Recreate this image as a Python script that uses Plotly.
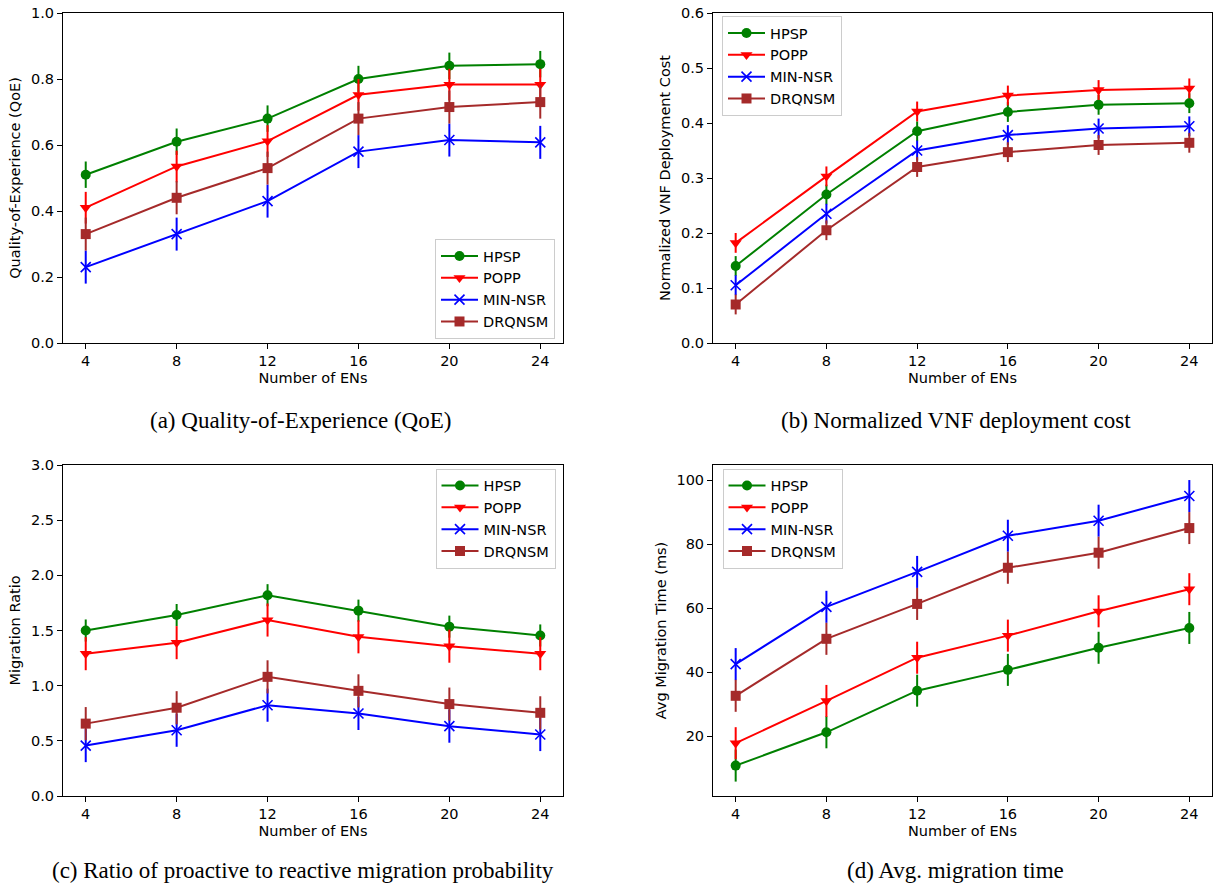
import plotly.graph_objects as go

# ---------------- data ----------------
ens = [4, 8, 12, 16, 20, 24]
series_names = ["HPSP", "POPP", "MIN-NSR", "DRQNSM"]

qoe_hpsp = [0.51, 0.61, 0.68, 0.80, 0.84, 0.845]
qoe_popp = [0.41, 0.535, 0.612, 0.752, 0.783, 0.783]
qoe_minnsr = [0.23, 0.33, 0.43, 0.58, 0.615, 0.608]
qoe_drqnsm = [0.33, 0.44, 0.53, 0.68, 0.715, 0.73]
qoe_err = [0.04, 0.048, 0.05, 0.05]

cost_hpsp = [0.14, 0.27, 0.385, 0.42, 0.433, 0.436]
cost_popp = [0.182, 0.303, 0.421, 0.45, 0.46, 0.463]
cost_minnsr = [0.105, 0.235, 0.35, 0.378, 0.39, 0.394]
cost_drqnsm = [0.07, 0.205, 0.32, 0.347, 0.36, 0.364]
cost_err = [0.018, 0.018, 0.018, 0.018]

ratio_hpsp = [1.50, 1.64, 1.82, 1.68, 1.535, 1.455]
ratio_popp = [1.29, 1.39, 1.595, 1.443, 1.358, 1.29]
ratio_minnsr = [0.457, 0.596, 0.823, 0.748, 0.633, 0.557]
ratio_drqnsm = [0.656, 0.80, 1.08, 0.953, 0.833, 0.754]
ratio_err = [0.1, 0.15, 0.15, 0.15]

time_hpsp = [10.8, 21.2, 34.2, 40.7, 47.6, 53.8]
time_popp = [17.8, 31.0, 44.5, 51.4, 59.0, 65.9]
time_minnsr = [42.5, 60.4, 71.3, 82.6, 87.3, 95.0]
time_drqnsm = [32.6, 50.4, 61.3, 72.6, 77.3, 85.0]
time_err = [5, 5, 5, 5]

x_ticks = [4, 8, 12, 16, 20, 24]
x_label = "Number of ENs"
y_labels = ["Quality-of-Experience (QoE)", "Normalized VNF Deployment Cost",
            "Migration Ratio", "Avg Migration Time (ms)"]
captions = ["(a) Quality-of-Experience (QoE)", "(b) Normalized VNF deployment cost",
            "(c) Ratio of proactive to reactive migration probability",
            "(d) Avg. migration time"]

# ---------------- style ----------------
colors = ["#008000", "#ff0000", "#0000ff", "#a52a2a"]
symbols = ["circle", "triangle-down", "x-thin", "square"]
msizes = [10, 10.5, 10, 10]
FONT = "DejaVu Sans"
FS = 14.5
W, H = 1215, 883


def px(x):
    return x / W


def py(y):
    return 1 - y / H


panels = [
    dict(data=[qoe_hpsp, qoe_popp, qoe_minnsr, qoe_drqnsm], err=qoe_err,
         yrange=[0, 1.0], ytickvals=[0, 0.2, 0.4, 0.6, 0.8, 1.0], yfmt=".1f"),
    dict(data=[cost_hpsp, cost_popp, cost_minnsr, cost_drqnsm], err=cost_err,
         yrange=[0, 0.6], ytickvals=[0, 0.1, 0.2, 0.3, 0.4, 0.5, 0.6], yfmt=".1f"),
    dict(data=[ratio_hpsp, ratio_popp, ratio_minnsr, ratio_drqnsm], err=ratio_err,
         yrange=[0, 3.0], ytickvals=[0, 0.5, 1.0, 1.5, 2.0, 2.5, 3.0], yfmt=".1f"),
    dict(data=[time_hpsp, time_popp, time_minnsr, time_drqnsm], err=time_err,
         yrange=[1.3, 104.7], ytickvals=[20, 40, 60, 80, 100], yfmt="d"),
]

# pixel boxes of axes (left, right, top, bottom)
boxes = [(63, 563, 13, 343), (713, 1212, 13, 343),
         (63, 563, 465, 796), (713, 1212, 465, 796)]

# legend placement (x, y-centre px, xanchor)
legend_pos = [(555, 289, "right"), (722, 66, "left"),
              (555.5, 518.5, "right"), (722.5, 518.5, "left")]

caption_pos = [(300.5, 420), (956, 420), (303, 870), (955.5, 870)]

fig = go.Figure()
layout = dict(width=W, height=H, margin=dict(l=0, r=0, t=0, b=0),
              paper_bgcolor="white", plot_bgcolor="white", template="none",
              font=dict(family=FONT, size=FS, color="black"), annotations=[])

for i, p in enumerate(panels):
    k = "" if i == 0 else str(i + 1)
    leg = "legend" + k
    for j, name in enumerate(series_names):
        fig.add_trace(go.Scatter(
            x=ens, y=p["data"][j], name=name, mode="lines+markers",
            xaxis="x" + k, yaxis="y" + k, legend=leg,
            line=dict(color=colors[j], width=2),
            marker=dict(symbol=symbols[j], size=msizes[j], color=colors[j],
                        line=dict(color=colors[j], width=1.6 if j == 2 else 0)),
            error_y=dict(type="constant", value=p["err"][j], width=0,
                         thickness=2, color=colors[j]),
        ))
    l, r, t, b = boxes[i]
    axcommon = dict(showline=True, linecolor="black", linewidth=1, mirror=True,
                    ticks="outside", ticklen=5, tickwidth=1, tickcolor="black",
                    showgrid=False, zeroline=False, automargin=False,
                    ticklabeloverflow="allow",
                    tickfont=dict(family=FONT, size=FS, color="black"))
    layout["xaxis" + k] = dict(axcommon, domain=[px(l), px(r)], range=[3, 25],
                               tickvals=x_ticks, anchor="y" + k,
                               title=dict(text=x_label, standoff=4,
                                          font=dict(family=FONT, size=FS)))
    layout["yaxis" + k] = dict(axcommon, domain=[py(b), py(t)],
                               range=p["yrange"], tickvals=p["ytickvals"],
                               tickformat=p["yfmt"], anchor="x" + k,
                               title=dict(text=y_labels[i], standoff=6,
                                          font=dict(family=FONT, size=FS)))
    lx, ly, xa = legend_pos[i]
    layout[leg] = dict(x=px(lx), y=py(ly), xanchor=xa, yanchor="middle",
                       bgcolor="rgba(255,255,255,0.8)", bordercolor="#cccccc",
                       borderwidth=1, itemwidth=37,
                       font=dict(family=FONT, size=FS, color="black"))
    cx, cy = caption_pos[i]
    layout["annotations"].append(dict(
        text=captions[i], x=px(cx), y=py(cy), xref="paper", yref="paper",
        xanchor="center", yanchor="middle", showarrow=False,
        font=dict(family="Liberation Serif", size=23, color="black")))

fig.update_layout(**layout)
# remove the default page margin so the figure fills the window exactly
fig.write_html("out.html",
               config={"displayModeBar": False},
               post_script="document.body.style.margin='0';"
                           "document.body.style.overflow='hidden';")
